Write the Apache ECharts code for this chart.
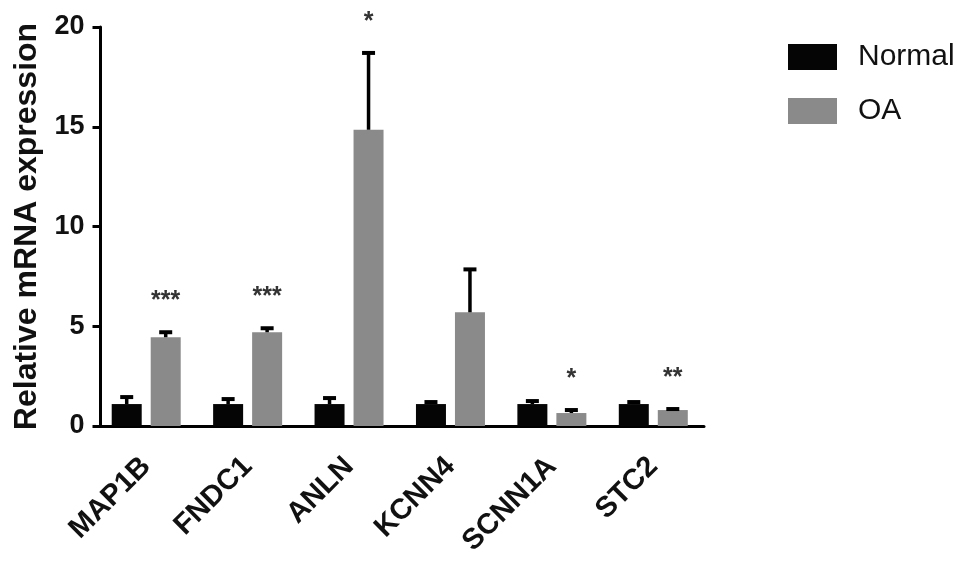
<!DOCTYPE html>
<html>
<head>
<meta charset="utf-8">
<script src="https://cdn.jsdelivr.net/npm/echarts@6/dist/echarts.min.js"></script>
<style>
html,body{margin:0;padding:0;background:#fff;}
#chart{width:969px;height:562px;}
</style>
</head>
<body>
<div id="chart"></div>
<script>
const categories = ['MAP1B', 'FNDC1', 'ANLN', 'KCNN4', 'SCNN1A', 'STC2'];
const normalMean = [1.1, 1.1, 1.1, 1.1, 1.1, 1.1];
const normalUpper = [1.45, 1.35, 1.4, 1.2, 1.25, 1.2];
const oaMean = [4.45, 4.7, 14.85, 5.7, 0.65, 0.8];
const oaUpper = [4.7, 4.9, 18.7, 7.85, 0.8, 0.85];
const significance = ['***', '***', '*', '', '*', '**'];
const yTicks = [0, 5, 10, 15, 20];

const FONT = '"Liberation Sans", Arial, Helvetica, sans-serif';
const BAR_W = 30;
const BAR_GAP = 9;
const OFFSET = (BAR_W + BAR_GAP) / 2;

function errorRenderer(sign, withSig) {
  return function (params, api) {
    const idx = api.value(0);
    const mean = api.value(1);
    const upper = api.value(2);
    const pMean = api.coord([idx, mean]);
    const pUp = api.coord([idx, upper]);
    const x = pMean[0] + sign * OFFSET;
    const children = [
      { type: 'line', shape: { x1: x, y1: pMean[1], x2: x, y2: pUp[1] },
        style: { stroke: '#000', lineWidth: 3.5 } },
      { type: 'line', shape: { x1: x - 6.5, y1: pUp[1], x2: x + 6.5, y2: pUp[1] },
        style: { stroke: '#000', lineWidth: 4 } }
    ];
    if (withSig) {
      const s = significance[params.dataIndex];
      if (s) {
        children.push({ type: 'text', x: x, y: pUp[1] - 31,
          style: { text: s, fontSize: 25, fontWeight: 'bold', fontFamily: FONT, fill: '#333',
                   align: 'center', verticalAlign: 'middle' } });
      }
    }
    return { type: 'group', children: children };
  };
}

const chart = echarts.init(document.getElementById('chart'));
chart.setOption({
  backgroundColor: '#fff',
  animation: false,
  grid: { left: 95.5, right: 265, top: 27, bottom: 136, containLabel: false },
  legend: {
    data: ['Normal', 'OA'],
    orient: 'vertical',
    left: 788, top: 42, padding: 0,
    itemWidth: 49, itemHeight: 26, itemGap: 24,
    icon: 'rect',
    textStyle: { fontSize: 30, fontFamily: FONT, color: '#111', padding: [0, 0, 0, 16] }
  },
  xAxis: {
    type: 'category',
    data: categories,
    axisLine: { lineStyle: { color: '#000', width: 3 } },
    axisTick: { alignWithLabel: true, length: 10, lineStyle: { color: '#000', width: 3 } },
    axisLabel: { rotate: 45, margin: 36, fontSize: 29, fontWeight: 'bold', fontFamily: FONT, color: '#111', interval: 0 }
  },
  yAxis: {
    type: 'value',
    offset: -5,
    min: yTicks[0], max: yTicks[yTicks.length - 1], interval: 5,
    name: 'Relative mRNA expression',
    nameLocation: 'middle',
    nameGap: 52,
    nameTextStyle: { fontSize: 32, fontWeight: 'bold', fontFamily: FONT, color: '#111' },
    axisLine: { show: true, lineStyle: { color: '#000', width: 3 } },
    axisTick: { show: true, length: 8, lineStyle: { color: '#000', width: 3 } },
    axisLabel: { margin: 16, fontSize: 27, fontWeight: 'bold', fontFamily: FONT, color: '#111' },
    splitLine: { show: false }
  },
  series: [
    { name: 'Normal', type: 'bar', data: normalMean, barWidth: BAR_W, barGap: (BAR_GAP / BAR_W * 100) + '%',
      itemStyle: { color: '#050505' }, z: 2 },
    { name: 'OA', type: 'bar', data: oaMean, barWidth: BAR_W,
      itemStyle: { color: '#8a8a8a' }, z: 2 },
    { type: 'custom', name: 'NormalErr', z: 3,
      renderItem: errorRenderer(-1, false),
      data: categories.map((c, i) => [i, normalMean[i], normalUpper[i]]) },
    { type: 'custom', name: 'OAErr', z: 3,
      renderItem: errorRenderer(1, true),
      data: categories.map((c, i) => [i, oaMean[i], oaUpper[i]]) }
  ]
});
</script>
</body>
</html>
